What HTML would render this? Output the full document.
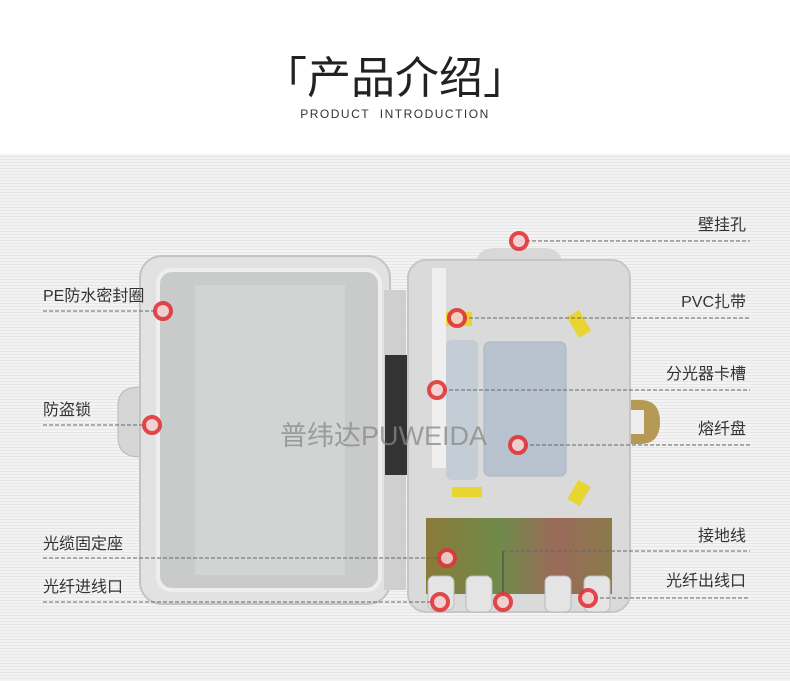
<!DOCTYPE html>
<html><head><meta charset="utf-8"><style>
html,body{margin:0;padding:0}
body{width:790px;height:681px;position:relative;overflow:hidden;background:#fff;font-family:"Liberation Sans","Noto Sans CJK SC",sans-serif}
#bg{position:absolute;left:0;top:154px;width:790px;height:527px;background:repeating-linear-gradient(#f3f3f3 0 2px,#e6e6e6 2px 3px)}
.t{position:absolute;font-size:16px;color:#333;white-space:nowrap;line-height:18px}
</style></head><body>
<div id="bg"></div>
<div style="position:absolute;left:0;width:790px;top:44px;text-align:center;font-size:44px;color:#222;font-family:'Noto Sans CJK SC',sans-serif;line-height:60px">「产品介绍」</div>
<div style="position:absolute;left:0;width:790px;top:107px;text-align:center;font-size:12px;letter-spacing:1.5px;color:#333">PRODUCT&nbsp; INTRODUCTION</div>
<svg width="790" height="681" style="position:absolute;left:0;top:0">
<defs><linearGradient id="br" x1="0" x2="1"><stop offset="0" stop-color="#8a7a3a"/><stop offset=".4" stop-color="#6f8a4a"/><stop offset=".7" stop-color="#9a6a5a"/><stop offset="1" stop-color="#8a7a4a"/></linearGradient></defs>
<!-- lid -->
<path d="M118 405 q0-18 22-18 h10 v70 h-10 q-22 0-22-20z" fill="#d6d6d6" stroke="#b8b8b8"/>
<rect x="140" y="256" width="250" height="348" rx="22" fill="#e2e2e2" stroke="#c4c4c4" stroke-width="2"/>
<rect x="158" y="270" width="222" height="320" rx="14" fill="#c9cbcb" stroke="#eeeeee" stroke-width="4"/>
<rect x="195" y="285" width="150" height="290" fill="#d2d4d4"/>
<rect x="384" y="290" width="22" height="300" fill="#cfcfcf"/>
<rect x="385" y="355" width="25" height="120" fill="#333"/>
<!-- base -->
<path d="M476 262 q2-14 20-14 h48 q16 0 18 14z" fill="#d8d8d8"/>
<path d="M620 400 h20 q20 0 20 22 q0 22-20 22 h-20z" fill="#b59a55"/>
<rect x="628" y="410" width="16" height="24" fill="#eee"/>
<rect x="408" y="260" width="222" height="352" rx="18" fill="#d9dad9" stroke="#c6c6c6" stroke-width="2"/>
<rect x="432" y="268" width="14" height="200" fill="#efefef"/>
<rect x="446" y="340" width="32" height="140" rx="6" fill="#c4ccd6"/>
<rect x="484" y="342" width="82" height="134" rx="6" fill="#b9c3cf" stroke="#a9b4c0"/>
<rect x="446" y="312" width="26" height="14" fill="#e8d530"/>
<rect x="572" y="312" width="14" height="24" fill="#e8d530" transform="rotate(-30 579 324)"/>
<rect x="452" y="487" width="30" height="10" fill="#e8d530"/>
<rect x="572" y="482" width="14" height="22" fill="#e8d530" transform="rotate(30 579 493)"/>
<rect x="426" y="518" width="186" height="76" fill="url(#br)"/>
<g fill="#e4e4e4" stroke="#bbb"><rect x="428" y="576" width="26" height="34" rx="6"/><rect x="466" y="576" width="26" height="36" rx="6"/><rect x="545" y="576" width="26" height="36" rx="6"/><rect x="584" y="576" width="26" height="36" rx="6"/></g>
<!-- lines -->
<g stroke="#666" stroke-width="1" stroke-dasharray="4 2" fill="none">
<line x1="43" y1="311" x2="160" y2="311"/><line x1="43" y1="425" x2="150" y2="425"/>
<line x1="43" y1="558" x2="447" y2="558"/><line x1="43" y1="602" x2="440" y2="602"/>
<line x1="520" y1="241" x2="750" y2="241"/><line x1="457" y1="318" x2="750" y2="318"/>
<line x1="437" y1="390" x2="750" y2="390"/><line x1="518" y1="445" x2="750" y2="445"/>
<line x1="503" y1="551" x2="750" y2="551"/><line x1="588" y1="598" x2="750" y2="598"/>
</g>
<line x1="503" y1="551" x2="503" y2="600" stroke="#444"/>
<g fill="#f4d0d0" stroke="#e0353a" stroke-width="4" opacity=".9">
<circle cx="163" cy="311" r="8"/><circle cx="152" cy="425" r="8"/><circle cx="447" cy="558" r="8"/><circle cx="440" cy="602" r="8"/>
<circle cx="519" cy="241" r="8"/><circle cx="457" cy="318" r="8"/><circle cx="437" cy="390" r="8"/><circle cx="518" cy="445" r="8"/><circle cx="503" cy="602" r="8"/><circle cx="588" cy="598" r="8"/>
</g>
<text x="280" y="445" font-size="27" fill="#888" opacity=".75" font-family="Liberation Sans,Noto Sans CJK SC,sans-serif">普纬达PUWEIDA</text>
</svg>
<div class="t" style="left:43px;top:288px">PE防水密封圈</div>
<div class="t" style="left:43px;top:402px">防盗锁</div>
<div class="t" style="left:43px;top:536px">光缆固定座</div>
<div class="t" style="left:43px;top:579px">光纤进线口</div>
<div class="t" style="right:44px;top:217px">壁挂孔</div>
<div class="t" style="right:44px;top:294px">PVC扎带</div>
<div class="t" style="right:44px;top:366px">分光器卡槽</div>
<div class="t" style="right:44px;top:421px">熔纤盘</div>
<div class="t" style="right:44px;top:528px">接地线</div>
<div class="t" style="right:44px;top:573px">光纤出线口</div>
</body></html>
